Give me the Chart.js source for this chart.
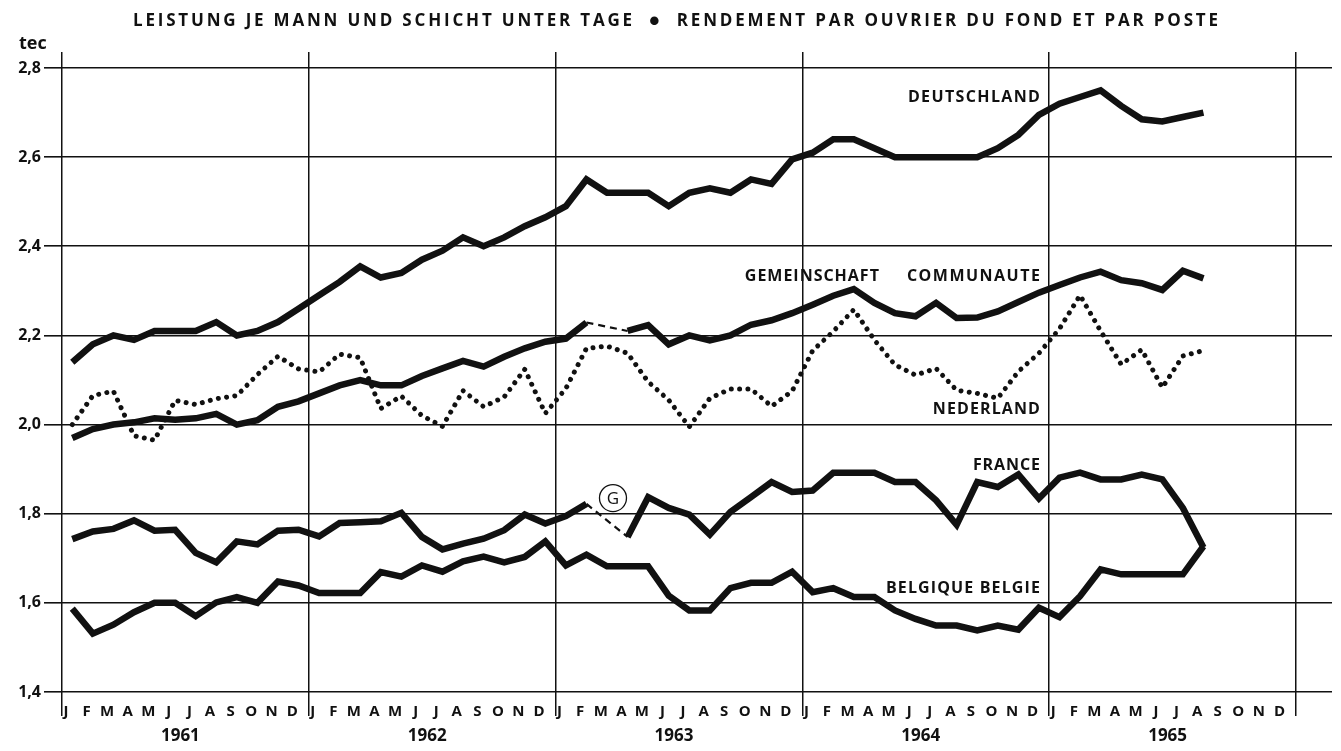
<!DOCTYPE html>
<html><head><meta charset="utf-8">
<script src="https://cdn.jsdelivr.net/npm/chart.js@4/dist/chart.umd.min.js"></script>
<style>html,body{margin:0;padding:0;background:#fff}#wrap{width:1341px;height:751px}</style>
</head><body><div id="wrap"><canvas id="c" width="1341" height="751"></canvas></div>
<script>
// ---- data ----
const MONTHS = ['J','F','M','A','M','J','J','A','S','O','N','D'];
const YEARS = ['1961','1962','1963','1964','1965'];
const Y_TICKS = [1.4,1.6,1.8,2.0,2.2,2.4,2.6,2.8];

const DEUTSCHLAND = [
2.14,2.18,2.20,2.19,2.21,2.21,2.21,2.23,2.20,2.21,2.23,2.26,
2.29,2.32,2.355,2.33,2.34,2.37,2.39,2.42,2.40,2.42,2.445,2.465,
2.49,2.55,2.52,2.52,2.52,2.49,2.52,2.53,2.52,2.55,2.54,2.595,
2.61,2.64,2.64,2.62,2.60,2.60,2.60,2.60,2.60,2.62,2.65,2.695,
2.72,2.735,2.75,2.715,2.685,2.68,2.69,2.70,null,null,null,null];

const GEMEINSCHAFT = [
1.97,1.99,2.00,2.005,2.014,2.011,2.014,2.024,2.00,2.01,2.04,2.052,
2.07,2.088,2.10,2.088,2.088,2.109,2.126,2.143,2.13,2.152,2.171,2.186,
2.193,2.229,null,2.21,2.223,2.18,2.20,2.189,2.20,2.224,2.234,2.25,
2.269,2.289,2.304,2.273,2.25,2.243,2.273,2.239,2.24,2.254,2.275,2.296,
2.313,2.33,2.343,2.324,2.317,2.302,2.345,2.328,null,null,null,null];

const NEDERLAND = [
2.00,2.065,2.075,1.975,1.965,2.054,2.045,2.058,2.065,2.112,2.153,2.125,
2.118,2.158,2.15,2.036,2.064,2.02,1.996,2.076,2.04,2.062,2.124,2.025,
2.081,2.171,2.176,2.16,2.096,2.055,1.995,2.059,2.08,2.08,2.041,2.075,
2.166,2.209,2.258,2.19,2.134,2.111,2.126,2.077,2.07,2.059,2.119,2.16,
2.215,2.29,2.21,2.135,2.168,2.083,2.154,2.166,null,null,null,null];

const FRANCE = [
1.743,1.76,1.766,1.785,1.762,1.764,1.712,1.691,1.738,1.731,1.762,1.764,
1.749,1.779,1.781,1.783,1.802,1.748,1.72,1.733,1.744,1.763,1.798,1.778,
1.795,1.822,null,1.748,1.837,1.813,1.798,1.753,1.804,1.837,1.871,1.849,
1.852,1.892,1.892,1.892,1.871,1.871,1.83,1.775,1.871,1.86,1.888,1.834,
1.881,1.892,1.877,1.877,1.888,1.877,1.813,1.724,null,null,null,null];

const BELGIQUE = [
1.587,1.531,1.551,1.579,1.60,1.60,1.57,1.601,1.613,1.60,1.648,1.639,
1.622,1.622,1.622,1.669,1.659,1.684,1.67,1.693,1.704,1.691,1.703,1.738,
1.684,1.708,1.682,1.682,1.682,1.616,1.583,1.583,1.633,1.645,1.645,1.67,
1.624,1.633,1.613,1.613,1.583,1.564,1.549,1.549,1.538,1.549,1.54,1.589,
1.568,1.615,1.675,1.664,1.664,1.664,1.664,1.727,null,null,null,null];

const TITLE = 'LEISTUNG JE MANN UND SCHICHT UNTER TAGE  \u25CF  RENDEMENT PAR OUVRIER DU FOND ET PAR POSTE';
const UNIT = 'tec';

// ---- rendering ----
const FAMILY = '"Open Sans", Lato, sans-serif';
const INK = '#111';
const toPts = arr => arr.map((v, i) => ({x: i + 0.5, y: v}));
const gapped = (ctx, val) => (ctx.p0.skip || ctx.p1.skip) ? val : undefined;

function solid(label, arr) {
  return {label, data: toPts(arr), borderColor: INK, borderWidth: 6.5, pointRadius: 0,
    tension: 0, spanGaps: true, borderJoinStyle: 'miter', borderCapStyle: 'butt',
    segment: {borderDash: c => gapped(c, [7, 5]), borderWidth: c => gapped(c, 2.2)}};
}

const LABELS = [
  {text: 'DEUTSCHLAND', x0: 41.13, x1: 47.55, y: 2.735},
  {text: 'GEMEINSCHAFT', x0: 33.2, x1: 39.72, y: 2.333},
  {text: 'COMMUNAUTE', x0: 41.08, x1: 47.55, y: 2.333},
  {text: 'NEDERLAND', x0: 42.34, x1: 47.55, y: 2.035},
  {text: 'FRANCE', x0: 44.29, x1: 47.55, y: 1.909},
  {text: 'BELGIQUE BELGIE', x0: 40.06, x1: 47.55, y: 1.633}
];

function fitText(ctx, text, xl, xr, ym, font) {
  ctx.font = font;
  ctx.letterSpacing = '0px';
  const w = ctx.measureText(text).width;
  const ls = (xr - xl - w) / (text.length - 1);
  ctx.letterSpacing = ls + 'px';
  ctx.textAlign = 'left';
  ctx.textBaseline = 'middle';
  ctx.fillText(text, xl, ym);
  ctx.letterSpacing = '0px';
}

const decor = {
  id: 'decor',
  beforeDraw(chart) {
    const {ctx} = chart;
    ctx.save(); ctx.fillStyle = '#fff'; ctx.fillRect(0, 0, chart.width, chart.height); ctx.restore();
  },
  afterDraw(chart) {
    const {ctx, scales: {x, y}} = chart;
    ctx.save();
    ctx.fillStyle = INK;
    fitText(ctx, TITLE, 133, 1218, 21, 'bold 17px ' + FAMILY);
    ctx.font = 'bold 18px ' + FAMILY;
    ctx.textAlign = 'left'; ctx.textBaseline = 'middle';
    ctx.fillText(UNIT, 19, 44);
    LABELS.forEach(l => {
      fitText(ctx, l.text, x.getPixelForValue(l.x0), x.getPixelForValue(l.x1), y.getPixelForValue(l.y), 'bold 16px ' + FAMILY);
    });
    // circled G
    const gx = x.getPixelForValue(26.79), gy = y.getPixelForValue(1.835);
    ctx.lineWidth = 1.3; ctx.strokeStyle = INK;
    ctx.beginPath(); ctx.arc(gx, gy, 13.5, 0, Math.PI * 2); ctx.stroke();
    ctx.font = '17px ' + FAMILY; ctx.textAlign = 'center'; ctx.textBaseline = 'middle';
    ctx.fillText('G', gx, gy + 1);
    ctx.restore();
  }
};

const tickFont = {family: FAMILY, size: 15, weight: 'bold'};
const yearTicks = s => { s.ticks = YEARS.concat(['']).map((_, k) => ({value: k * 12})); };
const gridCol = c => (c.tick && c.tick.value % 12 === 0) ? INK : 'rgba(0,0,0,0)';

new Chart(document.getElementById('c'), {
  type: 'line',
  data: {
    datasets: [
      solid('Deutschland', DEUTSCHLAND),
      solid('Gemeinschaft', GEMEINSCHAFT),
      {label: 'Nederland', data: toPts(NEDERLAND), borderColor: INK, borderWidth: 5,
       borderDash: [0.001, 8.3], borderCapStyle: 'round', pointRadius: 0, tension: 0},
      solid('France', FRANCE),
      solid('Belgique', BELGIQUE)
    ]
  },
  options: {
    responsive: false, animation: false, devicePixelRatio: 1, events: [],
    layout: {padding: 0},
    plugins: {legend: {display: false}, tooltip: {enabled: false}, title: {display: false}},
    scales: {
      x: {
        type: 'linear', position: 'bottom', min: 0, max: 60, weight: 1,
        afterBuildTicks: s => { s.ticks = Array.from({length: 61}, (_, i) => ({value: i})); },
        ticks: {autoSkip: false, maxRotation: 0, minRotation: 0, labelOffset: 4, padding: -13,
          color: INK, font: tickFont, callback: v => v < 60 ? MONTHS[v % 12] : ''},
        grid: {color: gridCol, lineWidth: 1.5, tickLength: 24},
        border: {display: false},
        afterFit: s => { s.height = 35; }
      },
      xy: {
        type: 'linear', position: 'bottom', min: 0, max: 60, weight: 2,
        afterBuildTicks: s => { s.ticks = YEARS.map((_, k) => ({value: 6 + 12 * k})); },
        ticks: {autoSkip: false, maxRotation: 0, padding: -1, labelOffset: -5, color: INK,
          font: {family: FAMILY, size: 17, weight: 'bold'}, callback: v => YEARS[(v - 6) / 12]},
        grid: {display: false, drawTicks: false},
        border: {display: false},
        afterFit: s => { s.height = 24; }
      },
      xt: {
        type: 'linear', position: 'top', min: 0, max: 60,
        afterBuildTicks: yearTicks,
        ticks: {display: false},
        grid: {drawOnChartArea: false, color: INK, lineWidth: 1.5, tickLength: 16},
        border: {display: false},
        afterFit: s => { s.height = 68; }
      },
      y: {
        position: 'left', min: 1.4, max: 2.8,
        afterBuildTicks: s => { s.ticks = Y_TICKS.map(v => ({value: v})); },
        ticks: {padding: 3, color: INK, font: {family: FAMILY, size: 16, weight: 'bold'},
          callback: v => v.toFixed(1).replace('.', ',')},
        grid: {color: INK, lineWidth: 1.6, tickLength: 18},
        border: {display: false},
        afterFit: s => { s.width = 62; }
      },
      y2: {
        position: 'right', min: 1.4, max: 2.8,
        afterBuildTicks: s => { s.ticks = Y_TICKS.map(v => ({value: v})); },
        ticks: {display: false},
        grid: {drawOnChartArea: false, color: INK, lineWidth: 1.6, tickLength: 36},
        border: {display: false},
        afterFit: s => { s.width = 45; }
      }
    }
  },
  plugins: [decor]
});
</script>
</body></html>
